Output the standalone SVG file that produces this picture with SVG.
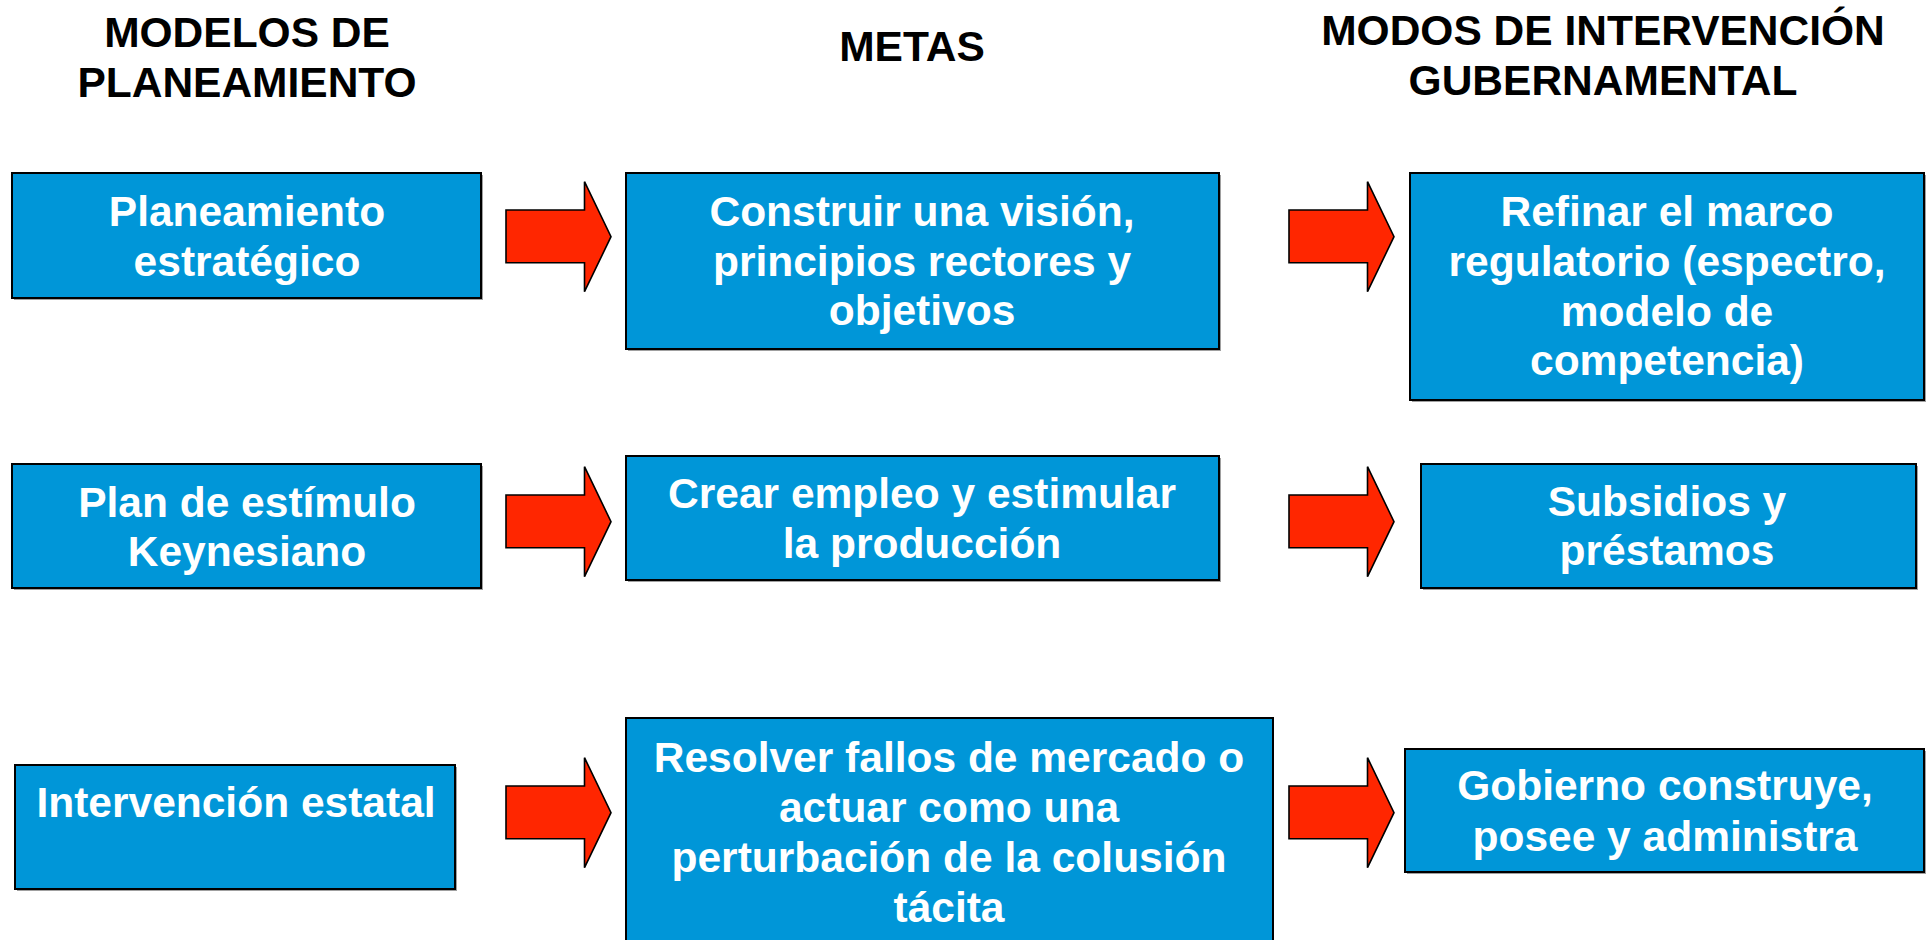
<svg xmlns="http://www.w3.org/2000/svg" width="1929" height="940" viewBox="0 0 1929 940">
<style>
.hdr{font-family:"Liberation Sans",Arial,sans-serif;font-weight:bold;font-size:42.5px;fill:#000;text-anchor:middle}
.box{fill:#0096d8;stroke:#000;stroke-width:2}
.shadow{fill:#a0a0a0}
.t{font-family:"Liberation Sans",Arial,sans-serif;font-weight:bold;font-size:42.5px;fill:#fff;text-anchor:middle}
.arrow{fill:#ff2600;stroke:#000;stroke-width:1.6;stroke-linejoin:miter}
</style>
<defs>
<polygon id="arr" points="0,0 78.5,0 78.5,-28.3 105,26.7 78.5,81.7 78.5,52.7 0,52.7"/>
</defs>
<rect width="1929" height="940" fill="#fff"/>

<g id="headers">
<text class="hdr" x="247" y="47">MODELOS DE</text>
<text class="hdr" x="247" y="97">PLANEAMIENTO</text>
<text class="hdr" x="912" y="61">METAS</text>
<text class="hdr" x="1603" y="45">MODOS DE INTERVENCIÓN</text>
<text class="hdr" x="1603" y="95">GUBERNAMENTAL</text>
</g>

<g id="connectors">
<g class="arrow">
<use href="#arr" x="506" y="210"/>
<use href="#arr" x="1289" y="210"/>
<use href="#arr" x="506" y="495"/>
<use href="#arr" x="1289" y="495"/>
<use href="#arr" x="506" y="786"/>
<use href="#arr" x="1289" y="786"/>
</g>
</g>

<g id="n1">
<rect class="shadow" x="14" y="175" width="469" height="125"/>
<rect class="box" x="12" y="173" width="469" height="125"/>
<text class="t" x="247" y="226">Planeamiento</text>
<text class="t" x="247" y="276">estratégico</text>
</g>

<g id="n2">
<rect class="shadow" x="628" y="175" width="593" height="176"/>
<rect class="box" x="626" y="173" width="593" height="176"/>
<text class="t" x="922" y="226">Construir una visión,</text>
<text class="t" x="922" y="275.5">principios rectores y</text>
<text class="t" x="922" y="325">objetivos</text>
</g>

<g id="n3">
<rect class="shadow" x="1412" y="175" width="514" height="227"/>
<rect class="box" x="1410" y="173" width="514" height="227"/>
<text class="t" x="1667" y="226">Refinar el marco</text>
<text class="t" x="1667" y="276">regulatorio (espectro,</text>
<text class="t" x="1667" y="325.5">modelo de</text>
<text class="t" x="1667" y="375">competencia)</text>
</g>

<g id="n4">
<rect class="shadow" x="14" y="466" width="469" height="124"/>
<rect class="box" x="12" y="464" width="469" height="124"/>
<text class="t" x="247" y="517">Plan de estímulo</text>
<text class="t" x="247" y="566">Keynesiano</text>
</g>

<g id="n5">
<rect class="shadow" x="628" y="458" width="593" height="124"/>
<rect class="box" x="626" y="456" width="593" height="124"/>
<text class="t" x="922" y="508">Crear empleo y estimular</text>
<text class="t" x="922" y="558">la producción</text>
</g>

<g id="n6">
<rect class="shadow" x="1423" y="466" width="495" height="124"/>
<rect class="box" x="1421" y="464" width="495" height="124"/>
<text class="t" x="1667" y="516">Subsidios y</text>
<text class="t" x="1667" y="565">préstamos</text>
</g>

<g id="n7">
<rect class="shadow" x="17" y="767" width="440" height="124"/>
<rect class="box" x="15" y="765" width="440" height="124"/>
<text class="t" x="236" y="817">Intervención estatal</text>
</g>

<g id="n8">
<rect class="box" x="626" y="718" width="647" height="240"/>
<text class="t" x="949" y="772">Resolver fallos de mercado o</text>
<text class="t" x="949" y="822">actuar como una</text>
<text class="t" x="949" y="872">perturbación de la colusión</text>
<text class="t" x="949" y="922">tácita</text>
</g>

<g id="n9">
<rect class="shadow" x="1407" y="751" width="519" height="123"/>
<rect class="box" x="1405" y="749" width="519" height="123"/>
<text class="t" x="1665" y="800">Gobierno construye,</text>
<text class="t" x="1665" y="851">posee y administra</text>
</g>
</svg>
